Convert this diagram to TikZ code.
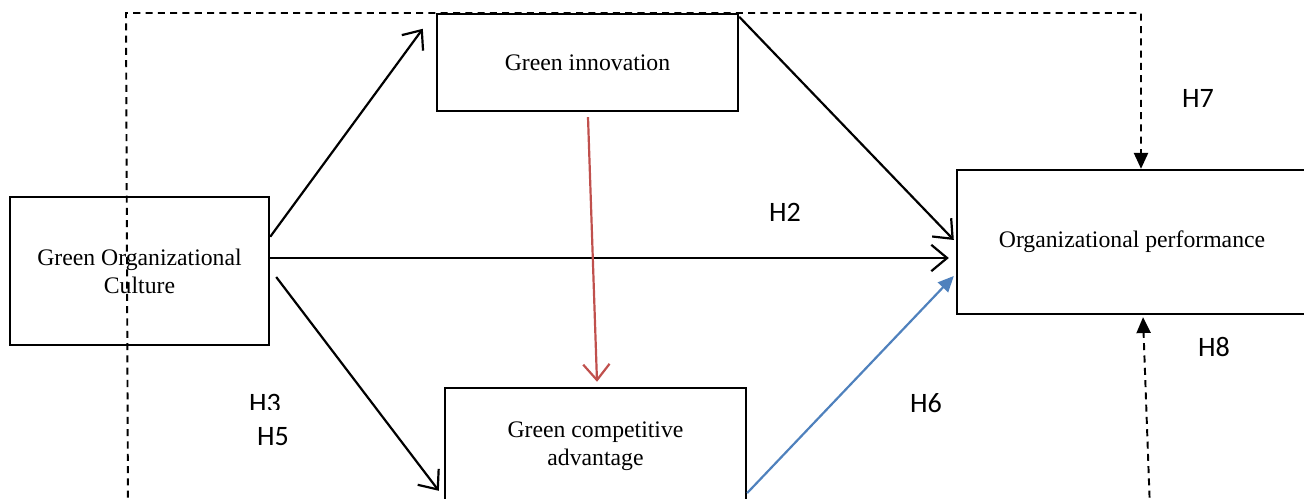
\documentclass[tikz,border=0pt]{standalone}
\usepackage{fontspec}
\setmainfont{Liberation Serif}
\newfontfamily\hypfont{Carlito}
\usepackage{tikz}
\usetikzlibrary{positioning, calc, arrows.meta}

\definecolor{arrowred}{RGB}{192,80,77}
\definecolor{arrowblue}{RGB}{79,129,189}

\tikzset{
    construct/.style={draw, line width=1.4pt, align=center,
        font=\fontsize{13.5}{16}\selectfont},
    hyp/.style={font=\hypfont\fontsize{16}{19}\selectfont, inner sep=0pt},
    path arrow/.style={line width=1.25pt, -{Straight Barb[length=9pt,width=15pt]}},
    mediated/.style={line width=1.1pt, dash pattern=on 4pt off 3pt, -{Triangle[length=9pt,width=8pt]}}
}

\begin{document}
\begin{tikzpicture}[x=0.02cm, y=-0.02cm]

        \clip (0,0) rectangle (1304,499);

        % ===================================================
        % Constructs
        % ===================================================
        \node[construct, minimum width=5.18cm, minimum height=2.96cm] (goc) at (139.5,271)
            {Green Organizational\\Culture};
        \node[construct, minimum width=6.02cm, minimum height=1.94cm] (gi) at (587.5,62.5)
            {Green innovation};
        \node[construct, minimum width=6.02cm, minimum height=2.32cm] (gca) at (595.5,446)
            {Green competitive\\advantage};
        \node[construct, minimum width=7cm, minimum height=2.88cm] (op) at (1132,242)
            {Organizational performance};

        % ===================================================
        % Direct paths
        % ===================================================
        \draw[path arrow] ($(goc.north east)+(0,41)$) -- ($(gi.north west)+(-13,16)$);
        \draw[path arrow] ($(goc.east)+(0,-13)$) -- ($(op.west)+(-7,16)$);
        \draw[path arrow] ($(goc.east)+(6,6)$) -- ($(gca.north west)+(-5,104)$);
        \draw[path arrow] ($(gi.north east)+(0,4)$) -- ($(op.west)+(-2,-2)$);
        \draw[path arrow, arrowred] ($(gi.south)+(0.5,5)$) -- ($(gca.north)+(1.5,-5)$);
        \draw[line width=1.25pt, arrowblue, -{Triangle[length=9pt,width=8pt]}]
            ($(gca.east)+(0,47)$) -- ($(op.west)+(-2,34)$);

        % ===================================================
        % Dashed (mediated) paths
        % ===================================================
        \coordinate (h7start) at (128,510);
        \coordinate (h7corner) at (126,13);
        \coordinate (h8start) at (1150,510);
        \draw[mediated] (h7start) -- (h7corner) -| ($(op.north)+(9,0)$);
        \draw[mediated] (h8start) -- ($(op.south)+(11,2)$);

        % ===================================================
        % Hypothesis labels
        % ===================================================
        \node[hyp] (h7) at (1198,98) {H7};
        \node[hyp] (h2) at (785,212) {H2};
        \node[hyp] (h8) at (1214,347) {H8};
        \node[hyp] (h6) at (926,403) {H6};
        \node[hyp] (h5) at (273,437) {H5};
        \begin{scope}
            \clip (200,380) rectangle (330,410);
            \node[hyp] (h3) at (265,403) {H3};
        \end{scope}

    \end{tikzpicture}
\end{document}
